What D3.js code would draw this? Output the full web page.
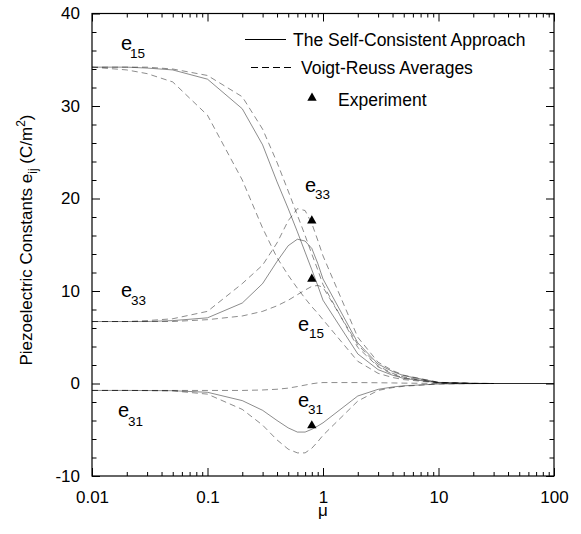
<!DOCTYPE html>
<html>
<head>
<meta charset="utf-8">
<title>piezo</title>
<script src="https://cdn.jsdelivr.net/npm/d3@7"></script>
<style>
  body { margin: 0; background: #fff; }
  text { font-family: "Liberation Sans", Arial, sans-serif; }
</style>
</head>
<body>
<svg width="581" height="534" id="mainsvg"></svg>
<script>
// mu grid shared by all curves
const mu = [0.01, 0.02, 0.03, 0.05, 0.1, 0.2, 0.3, 0.4, 0.5, 0.6, 0.7, 0.8, 0.9, 1, 2, 3, 4, 5, 10, 20, 30, 100];

// self-consistent approach (solid)
const e15SC = [34.2, 34.2, 34.1, 33.9, 32.9, 29.7, 25.8, 21.8, 18.9, 16.4, 14.2, 12.3, 10.6, 9.0, 3.2, 1.5, 0.9, 0.55, 0.08, 0.01, 0, 0];
const e33SC = [6.7, 6.7, 6.7, 6.8, 7.1, 8.7, 10.8, 13.2, 14.9, 15.6, 15.4, 14.6, 13.0, 11.3, 4.4, 2.1, 1.3, 0.85, 0.12, 0.01, 0, 0];
const e31SC = [-0.75, -0.75, -0.76, -0.78, -0.95, -1.85, -2.9, -4.0, -4.8, -5.25, -5.25, -4.95, -4.6, -4.25, -1.35, -0.63, -0.38, -0.25, -0.05, -0.01, 0, 0];

// Voigt-Reuss averages (dashed), upper and lower bounds
const e15V = [34.2, 34.2, 34.2, 34.0, 33.3, 31.0, 27.5, 23.9, 20.8, 18.2, 16.0, 14.0, 12.3, 10.7, 3.9, 1.8, 1.0, 0.6, 0.1, 0.01, 0, null];
const e15R = [34.2, 33.9, 33.5, 32.6, 29.0, 22.0, 16.8, 13.6, 11.7, 10.3, 9.2, 8.3, 7.6, 6.9, 2.4, 1.1, 0.65, 0.42, 0.07, 0.01, 0, null];
const e33V = [6.7, 6.7, 6.8, 7.0, 7.8, 10.8, 12.8, 15.2, 17.6, 18.9, 18.7, 17.3, 15.5, 13.8, 5.0, 2.3, 1.4, 0.9, 0.13, 0.01, 0, null];
const e33R = [6.7, 6.7, 6.7, 6.7, 6.9, 7.3, 7.8, 8.4, 9.0, 9.6, 10.1, 10.5, 10.6, 10.4, 4.2, 1.9, 1.1, 0.7, 0.1, 0.01, 0, null];
const e31V = [-0.75, -0.75, -0.75, -0.75, -0.75, -0.75, -0.7, -0.62, -0.5, -0.33, -0.17, -0.03, 0.06, 0.1, 0.1, 0.08, 0.06, 0.04, 0.01, 0, 0, null];
const e31R = [-0.75, -0.75, -0.77, -0.8, -1.15, -2.8, -4.5, -6.1, -7.1, -7.5, -7.5, -7.0, -6.3, -5.6, -1.9, -0.75, -0.45, -0.3, -0.05, -0.01, 0, null];

// experiment
const expMu = [0.8, 0.8, 0.8];
const expVal = [17.6, 11.3, -4.55];

const xTicks = [0.01, 0.1, 1, 10, 100];
const yTicks = [-10, 0, 10, 20, 30, 40];

const svg = d3.select('#mainsvg');
const width = +svg.attr('width');
const height = +svg.attr('height');
const margin = {top: 13.5, right: 27, bottom: 58, left: 92};
const innerWidth = width - margin.left - margin.right;
const innerHeight = height - margin.top - margin.bottom;

const xScale = d3.scaleLog().domain([0.01, 100]).range([0, innerWidth]);
const yScale = d3.scaleLinear().domain([-10, 40]).range([innerHeight, 0]);

const g = svg.append('g').attr('transform', `translate(${margin.left},${margin.top})`);

// minor ticks
const xMinor = [];
[0.01, 0.1, 1, 10].forEach(d => { for (let k = 2; k <= 9; k++) xMinor.push(d * k); });
const yMinor = d3.range(-10, 41, 2).filter(v => v % 10 !== 0);

const axisStyle = sel => {
  sel.select('.domain').remove();
  sel.selectAll('line').attr('stroke', '#000').attr('stroke-width', 1);
  sel.selectAll('text').attr('font-size', 17).attr('fill', '#000')
    .attr('font-family', '"Liberation Sans", Arial, sans-serif');
};

// bottom
g.append('g').attr('transform', `translate(0,${innerHeight})`)
  .call(d3.axisBottom(xScale).tickValues(xTicks).tickFormat(d => String(d)).tickSize(-8).tickPadding(15))
  .call(axisStyle);
g.append('g').attr('transform', `translate(0,${innerHeight})`)
  .call(d3.axisBottom(xScale).tickValues(xMinor).tickFormat('').tickSize(-4))
  .call(axisStyle);
// top
g.append('g')
  .call(d3.axisTop(xScale).tickValues(xTicks).tickFormat('').tickSize(-8))
  .call(axisStyle);
g.append('g')
  .call(d3.axisTop(xScale).tickValues(xMinor).tickFormat('').tickSize(-4))
  .call(axisStyle);
// left
g.append('g')
  .call(d3.axisLeft(yScale).tickValues(yTicks).tickFormat(d => String(d)).tickSize(-8).tickPadding(12))
  .call(axisStyle);
g.append('g')
  .call(d3.axisLeft(yScale).tickValues(yMinor).tickFormat('').tickSize(-4.5))
  .call(axisStyle);
// right
g.append('g').attr('transform', `translate(${innerWidth},0)`)
  .call(d3.axisRight(yScale).tickValues(yTicks).tickFormat('').tickSize(-8))
  .call(axisStyle);
g.append('g').attr('transform', `translate(${innerWidth},0)`)
  .call(d3.axisRight(yScale).tickValues(yMinor).tickFormat('').tickSize(-4.5))
  .call(axisStyle);

// frame
g.append('rect').attr('width', innerWidth).attr('height', innerHeight)
  .attr('fill', 'none').attr('stroke', '#000').attr('stroke-width', 1.2);

// curves
const line = d3.line()
  .defined(d => d[1] !== null)
  .x(d => xScale(d[0]))
  .y(d => yScale(d[1]));

const curves = [
  {vals: e15SC, dash: null}, {vals: e33SC, dash: null}, {vals: e31SC, dash: null},
  {vals: e15V, dash: '6,4'}, {vals: e15R, dash: '6,4'},
  {vals: e33V, dash: '6,4'}, {vals: e33R, dash: '6,4'},
  {vals: e31V, dash: '6,4'}, {vals: e31R, dash: '6,4'}
];

g.selectAll('.curve').data(curves).join('path')
  .attr('class', 'curve')
  .attr('d', c => line(mu.map((m, i) => [m, c.vals[i]])))
  .attr('fill', 'none')
  .attr('stroke', '#000')
  .attr('stroke-opacity', 0.45)
  .attr('stroke-width', 1)
  .attr('stroke-dasharray', c => c.dash);

// experiment
const tri = d3.symbol().type(d3.symbolTriangle).size(38);
g.selectAll('.exp').data(expMu).join('path')
  .attr('class', 'exp')
  .attr('d', tri)
  .attr('transform', (d, i) => `translate(${xScale(d)},${yScale(expVal[i])})`)
  .attr('fill', '#000');

// curve labels
const labels = [
  {x: 121, y: 50, sub: '15', sx: 130, sy: 58},
  {x: 121, y: 297, sub: '33', sx: 131, sy: 305},
  {x: 118, y: 417, sub: '31', sx: 128, sy: 426},
  {x: 305, y: 192, sub: '33', sx: 315, sy: 199},
  {x: 298, y: 331, sub: '15', sx: 309, sy: 338},
  {x: 298, y: 407, sub: '31', sx: 308, sy: 414}
];
labels.forEach(l => {
  svg.append('text').attr('x', l.x).attr('y', l.y).attr('font-size', 20).text('e');
  svg.append('text').attr('x', l.sx).attr('y', l.sy).attr('font-size', 13.5).text(l.sub);
});

// legend
svg.append('line').attr('x1', 245).attr('x2', 286).attr('y1', 39.5).attr('y2', 39.5)
  .attr('stroke', '#000').attr('stroke-width', 1);
svg.append('text').attr('x', 293).attr('y', 46).attr('font-size', 17.5).text('The Self-Consistent Approach');
svg.append('line').attr('x1', 251).attr('x2', 295).attr('y1', 67.5).attr('y2', 67.5)
  .attr('stroke', '#000').attr('stroke-width', 1).attr('stroke-dasharray', '7,4');
svg.append('text').attr('x', 301).attr('y', 74).attr('font-size', 17.5).text('Voigt-Reuss Averages');
svg.append('path').attr('d', tri).attr('transform', 'translate(312,98)').attr('fill', '#000');
svg.append('text').attr('x', 338).attr('y', 106).attr('font-size', 17.5).text('Experiment');

// axis titles
svg.append('text').attr('x', 323).attr('y', 516).attr('text-anchor', 'middle')
  .attr('font-size', 17).text('μ');

const yt = svg.append('text')
  .attr('transform', `translate(32,240) rotate(-90)`)
  .attr('text-anchor', 'middle')
  .attr('font-size', 17);
yt.append('tspan').text('Piezoelectric Constants e');
yt.append('tspan').attr('font-size', 12).attr('dy', 5).text('ij');
yt.append('tspan').attr('dy', -5).text(' (C/m');
yt.append('tspan').attr('font-size', 12).attr('dy', -7).text('2');
yt.append('tspan').attr('dy', 7).text(')');
</script>
</body>
</html>
